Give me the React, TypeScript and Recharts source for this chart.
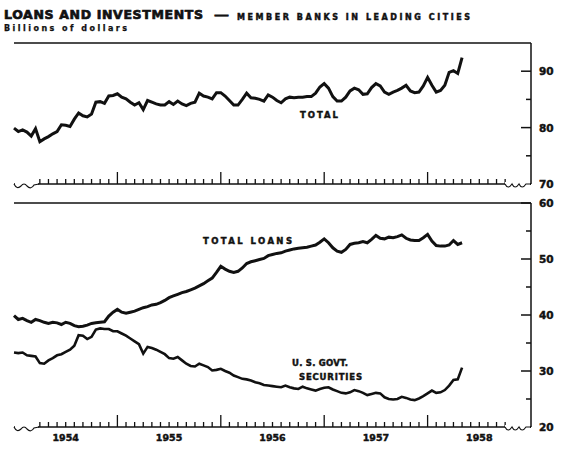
import React from "react";
import { LineChart, Line, XAxis, YAxis, ReferenceLine } from "recharts";

// half-monthly readings, Jan 1954 onward (billions of dollars)
const totalValues = [
  79.9, 79.3, 79.6, 79.2, 78.5, 79.8, 77.5, 78.0, 78.4, 78.9,
  79.3, 80.5, 80.4, 80.2, 81.5, 82.6, 82.1, 81.9, 82.4, 84.5,
  84.6, 84.3, 85.6, 85.7, 86.0, 85.4, 85.1, 84.5, 84.0, 84.4,
  83.2, 84.8, 84.5, 84.2, 84.0, 84.0, 84.6, 84.1, 84.7, 84.2,
  83.9, 84.3, 84.5, 86.1, 85.6, 85.4, 85.1, 86.2, 86.2, 85.6,
  84.8, 84.0, 84.0, 85.0, 86.1, 85.3, 85.2, 85.0, 84.7, 85.8,
  85.4, 84.8, 84.4, 85.1, 85.4, 85.3, 85.4, 85.4, 85.5, 85.5,
  86.1, 87.2, 87.8, 87.0, 85.5, 84.7, 84.7, 85.4, 86.5, 87.0,
  86.7, 85.9, 86.0, 87.1, 87.8, 87.4, 86.3, 85.9, 86.3, 86.6,
  87.0, 87.5, 86.5, 86.2, 86.3, 87.4, 88.9, 87.5, 86.3, 86.6,
  87.5, 89.8, 90.1, 89.6, 92.4,
];

const loanValues = [
  39.9, 39.2, 39.4, 39.0, 38.7, 39.2, 39.0, 38.7, 38.5, 38.7,
  38.6, 38.3, 38.7, 38.5, 38.1, 37.9, 38.0, 38.2, 38.5, 38.6,
  38.7, 38.8, 39.8, 40.5, 41.0, 40.5, 40.3, 40.5, 40.7, 41.0,
  41.3, 41.5, 41.8, 41.9, 42.2, 42.6, 43.1, 43.4, 43.7, 44.0,
  44.2, 44.5, 44.8, 45.2, 45.6, 46.1, 46.6, 47.6, 48.7, 48.2,
  47.8, 47.6, 47.8, 48.4, 49.2, 49.5, 49.7, 49.9, 50.1, 50.6,
  50.8, 51.0, 51.1, 51.4, 51.6, 51.8, 51.9, 52.0, 52.1, 52.3,
  52.5, 53.0, 53.6, 52.9, 52.0, 51.4, 51.2, 51.7, 52.6, 52.8,
  52.9, 53.1, 52.9, 53.5, 54.2, 53.7, 53.6, 53.9, 53.8, 54.0,
  54.3, 53.7, 53.4, 53.3, 53.3, 53.8, 54.4, 53.2, 52.4, 52.3,
  52.3, 52.5, 53.3, 52.6, 52.9,
];

const govtValues = [
  33.3, 33.2, 33.3, 32.8, 32.7, 32.6, 31.4, 31.3, 31.9, 32.3,
  32.8, 33.0, 33.4, 33.8, 34.5, 36.4, 36.3, 35.7, 36.1, 37.4,
  37.6, 37.5, 37.5, 37.1, 37.1, 36.7, 36.3, 35.8, 35.3, 34.8,
  33.1, 34.3, 34.1, 33.8, 33.4, 33.0, 32.3, 32.2, 32.5, 31.9,
  31.3, 30.9, 30.8, 31.3, 31.0, 30.7, 30.1, 30.2, 30.4, 30.0,
  29.7, 29.2, 28.9, 28.6, 28.5, 28.3, 28.0, 27.8, 27.5, 27.4,
  27.3, 27.2, 27.1, 27.4, 27.1, 26.9, 26.8, 27.2, 26.9, 26.7,
  26.5, 26.8, 27.0, 27.1, 26.7, 26.4, 26.1, 26.0, 26.2, 26.6,
  26.4, 26.1, 25.7, 25.9, 26.1, 26.0, 25.3, 25.0, 24.9, 25.0,
  25.4, 25.2, 24.9, 24.8, 25.1, 25.5, 26.0, 26.5, 26.1, 26.2,
  26.6, 27.4, 28.4, 28.5, 30.6,
];

const yearLabels = ["1954", "1955", "1956", "1957", "1958"];
const totalTicks = [70, 75, 80, 85, 90];
const lowerTicks = [20, 25, 30, 35, 40, 45, 50, 55, 60];

const periods = totalValues.map((_, i) => 1954 + i / 24);
const monthTicks = Array.from({ length: 55 }, (_, i) => 1954.25 + i / 12);

const topData = periods.map((t, i) => ({ t, total: totalValues[i] }));
const lowerData = periods.map((t, i) => ({ t, loans: loanValues[i], govt: govtValues[i] }));

const INK = "#111";
const FONT = "'DejaVu Sans', sans-serif";
// thicken glyphs a little, the print is heavier than DejaVu Bold
const heavy = { stroke: INK, strokeWidth: 0.45, paintOrder: "stroke" as const };

const frac = (v: number) => v - Math.floor(v + 1e-6);

const monthTick = (withYears: boolean) => (props: any) => {
  const { x, y, payload } = props;
  const f = frac(payload.value);
  const isYear = f < 1e-4 || f > 1 - 1e-4;
  const isMid = Math.abs(f - 0.5) < 1e-4;
  return (
    <g>
      <line x1={x} x2={x} y1={y} y2={y - (isYear ? 12 : 5)} stroke={INK} strokeWidth={1.3} />
      {withYears && isMid && (
        <text x={x} y={y + 10} textAnchor="middle" dominantBaseline="central"
          fontFamily={FONT} fontWeight="bold" fontSize={9.5} fill={INK} {...heavy}>
          {yearLabels[Math.floor(payload.value) - 1954]}
        </text>
      )}
    </g>
  );
};

const leftTick = (props: any) => {
  const { x, y, payload } = props;
  const major = payload.value % 10 === 0;
  return <line x1={x} x2={x + (major ? 14 : 3)} y1={y} y2={y} stroke={INK} strokeWidth={1.3} />;
};

const rightTick = (props: any) => {
  const { x, y, payload } = props;
  const major = payload.value % 10 === 0;
  return (
    <g>
      <line x1={x} x2={x - (major ? 10 : 5)} y1={y} y2={y} stroke={INK} strokeWidth={1.5} />
      {major && (
        <text x={x + 8} y={y} dominantBaseline="central" fontFamily={FONT}
          fontWeight="bold" fontSize={10.5} fill={INK} {...heavy}>
          {payload.value}
        </text>
      )}
    </g>
  );
};

const axisLine = { stroke: INK, strokeWidth: 1.5 };

function breakMarks(y: number) {
  return (
    <g fill="none" stroke={INK} strokeWidth={1.2}>
      <rect x={15} y={y - 2} width={23} height={4} fill="#fff" stroke="none" />
      <rect x={505} y={y - 2} width={25} height={4} fill="#fff" stroke="none" />
      <path d={`M14,${y} Q17,${y + 6} 21,${y + 2} Q24,${y - 2} 27,${y + 2} Q31,${y + 6} 34,${y + 1} L39,${y}`} />
      <path d={`M505,${y} Q508,${y + 6} 512,${y} Q515,${y + 6} 519,${y} Q522,${y + 6} 526,${y} L531,${y}`} />
    </g>
  );
}

export default function App() {
  return (
    <div style={{ position: "absolute", left: 0, top: 0, width: 563, height: 449, background: "#fff" }}>
      <div style={{ position: "absolute", left: 0, top: 0 }}>
        <LineChart width={563} height={190} data={topData}
          margin={{ top: 43, right: 6, bottom: 0, left: 14 }}>
          <XAxis dataKey="t" type="number" domain={[1954, 1959]} ticks={monthTicks}
            interval={0} height={6} tickSize={0} tickMargin={0} tickLine={false}
            axisLine={axisLine} tick={monthTick(false)} />
          <YAxis yAxisId="left" orientation="left" width={0} domain={[70, 95]} ticks={totalTicks}
            interval={0} tickSize={0} tickMargin={0} tickLine={false} axisLine={axisLine} tick={leftTick} />
          <YAxis yAxisId="right" orientation="right" width={26} domain={[70, 95]} ticks={totalTicks}
            interval={0} tickSize={0} tickMargin={0} tickLine={false} axisLine={axisLine} tick={rightTick} />
          <ReferenceLine yAxisId="right" y={95} stroke={INK} strokeWidth={1.5} />
          <Line yAxisId="right" dataKey="total" type="linear" stroke={INK} strokeWidth={3}
            dot={false} isAnimationActive={false} />
        </LineChart>
      </div>
      <div style={{ position: "absolute", left: 0, top: 0 }}>
        <LineChart width={563} height={449} data={lowerData}
          margin={{ top: 203, right: 6, bottom: 0, left: 14 }}>
          <XAxis dataKey="t" type="number" domain={[1954, 1959]} ticks={monthTicks}
            interval={0} height={22} tickSize={0} tickMargin={0} tickLine={false}
            axisLine={axisLine} tick={monthTick(true)} />
          <YAxis yAxisId="left" orientation="left" width={0} domain={[20, 60]} ticks={lowerTicks}
            interval={0} tickSize={0} tickMargin={0} tickLine={false} axisLine={axisLine} tick={leftTick} />
          <YAxis yAxisId="right" orientation="right" width={26} domain={[20, 60]} ticks={lowerTicks}
            interval={0} tickSize={0} tickMargin={0} tickLine={false} axisLine={axisLine} tick={rightTick} />
          <ReferenceLine yAxisId="right" y={60} stroke={INK} strokeWidth={1.5} />
          <Line yAxisId="right" dataKey="loans" type="linear" stroke={INK} strokeWidth={3}
            dot={false} isAnimationActive={false} />
          <Line yAxisId="right" dataKey="govt" type="linear" stroke={INK} strokeWidth={2.6}
            dot={false} isAnimationActive={false} />
        </LineChart>
      </div>
      <svg width={563} height={449} style={{ position: "absolute", left: 0, top: 0, pointerEvents: "none" }}>
        <g fontFamily={FONT} fontWeight="bold" fill={INK}>
          <text x={4} y={19} fontSize={12.5} textLength={199} lengthAdjust="spacing"
            stroke={INK} strokeWidth={0.7} paintOrder="stroke">LOANS AND INVESTMENTS</text>
          <text x={214} y={18.5} fontSize={11} textLength={15} lengthAdjust="spacingAndGlyphs"
            stroke={INK} strokeWidth={0.7}>—</text>
          <text x={237} y={20} fontSize={8} textLength={233} lengthAdjust="spacing"
            {...heavy}>MEMBER BANKS IN LEADING CITIES</text>
          <text x={4} y={31} fontSize={8} textLength={123} lengthAdjust="spacing"
            stroke={INK} strokeWidth={0.25}>Billions of dollars</text>
          <text x={300} y={118} fontSize={8.5} textLength={38} lengthAdjust="spacing" {...heavy}>TOTAL</text>
          <text x={203} y={244} fontSize={8.5} textLength={89} lengthAdjust="spacing" {...heavy}>TOTAL LOANS</text>
          <text x={292} y={366} fontSize={8.5} textLength={56} lengthAdjust="spacing" {...heavy}>U. S. GOVT.</text>
          <text x={299} y={380} fontSize={8.5} textLength={63} lengthAdjust="spacing" {...heavy}>SECURITIES</text>
        </g>
        {breakMarks(184)}
        {breakMarks(427)}
      </svg>
    </div>
  );
}
